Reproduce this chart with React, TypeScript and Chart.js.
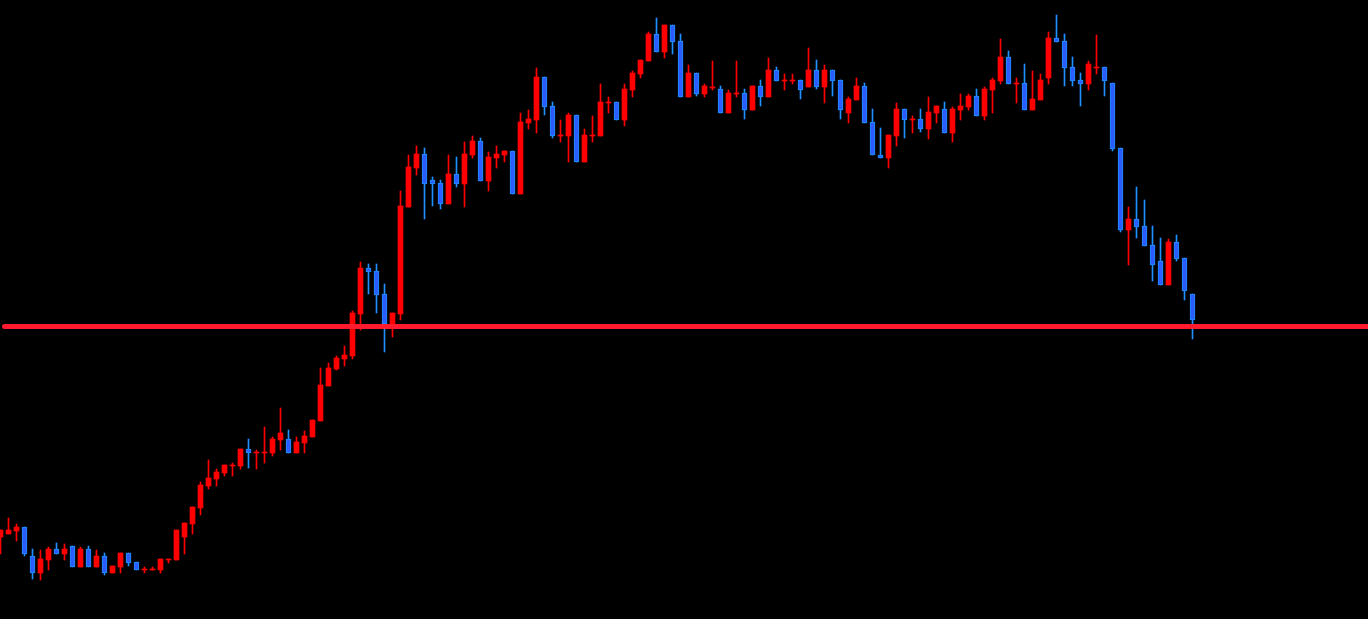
import React, { useEffect, useRef } from "react";
import { Chart, registerables } from "chart.js";

Chart.register(...registerables);

// OHLC prices for each candle (arbitrary price units)
const opens = [
  463, 466, 469, 473, 444, 427, 440, 451, 446, 454, 433, 451, 433, 444, 427, 433, 447, 438, 430, 430,
  430, 440, 440, 463, 476, 492, 514, 521, 527, 534, 534, 551, 547, 547, 547, 560, 561, 547, 557, 563,
  579, 614, 631, 641, 644, 686, 732, 729, 706, 676, 686, 793, 832, 846, 820, 817, 796, 826, 816, 845,
  859, 819, 842, 845, 849, 806, 877, 880, 923, 894, 864, 864, 885, 838, 864, 864, 897, 898, 880, 910,
  926, 939, 966, 948, 975, 959, 903, 927, 906, 912, 911, 887, 906, 907, 890, 914, 903, 930, 919, 919,
  920, 913, 930, 913, 930, 920, 887, 900, 914, 878, 845, 842, 864, 891, 880, 881, 871, 887, 891, 867,
  890, 893, 904, 884, 910, 919, 943, 916, 917, 890, 900, 922, 962, 959, 933, 920, 916, 932, 933, 917,
  852, 770, 781, 774, 755, 739, 715, 758, 742, 706,
];
const highs = [
  470, 482, 476, 473, 451, 450, 453, 457, 456, 454, 453, 454, 450, 447, 434, 447, 447, 438, 433, 433,
  441, 441, 470, 477, 493, 518, 540, 531, 535, 537, 551, 561, 550, 573, 563, 592, 570, 563, 569, 580,
  632, 637, 644, 654, 689, 738, 736, 736, 716, 687, 809, 845, 854, 852, 823, 820, 845, 843, 858, 864,
  862, 848, 854, 849, 849, 887, 890, 932, 923, 898, 880, 887, 885, 871, 884, 916, 903, 898, 916, 929,
  940, 968, 982, 975, 975, 966, 935, 927, 916, 939, 914, 910, 939, 911, 914, 920, 942, 933, 926, 926,
  920, 952, 940, 935, 930, 920, 903, 922, 917, 891, 872, 865, 897, 891, 884, 891, 903, 894, 898, 893,
  906, 906, 911, 913, 922, 961, 949, 922, 936, 929, 926, 968, 985, 966, 943, 927, 939, 965, 933, 917,
  852, 793, 813, 800, 774, 762, 761, 765, 742, 706,
];
const lows = [
  446, 466, 459, 444, 421, 420, 430, 446, 440, 433, 433, 433, 433, 425, 427, 427, 434, 430, 427, 430,
  427, 437, 440, 446, 466, 485, 511, 514, 524, 524, 531, 532, 531, 537, 544, 550, 547, 547, 547, 563,
  579, 614, 630, 634, 641, 670, 706, 687, 648, 663, 680, 793, 825, 781, 794, 791, 796, 813, 793, 842,
  819, 809, 832, 838, 806, 806, 871, 867, 885, 862, 858, 838, 838, 838, 858, 864, 887, 880, 874, 903,
  922, 939, 948, 942, 946, 903, 903, 904, 903, 910, 887, 887, 903, 881, 890, 894, 903, 919, 910, 916,
  901, 913, 911, 897, 904, 881, 877, 900, 877, 845, 842, 832, 854, 862, 867, 868, 861, 877, 867, 858,
  880, 890, 884, 880, 887, 916, 916, 897, 890, 890, 900, 916, 958, 914, 914, 894, 910, 926, 904, 849,
  768, 735, 762, 754, 719, 715, 715, 739, 700, 661,
];
const closes = [
  470, 470, 473, 446, 427, 441, 451, 446, 451, 433, 451, 433, 444, 427, 434, 447, 437, 430, 431, 431,
  441, 441, 470, 477, 493, 515, 522, 528, 535, 535, 551, 547, 548, 548, 561, 567, 547, 558, 564, 580,
  615, 632, 642, 645, 687, 732, 728, 705, 676, 687, 794, 833, 846, 816, 816, 796, 826, 816, 846, 859,
  819, 843, 846, 849, 806, 878, 881, 923, 893, 864, 865, 885, 838, 865, 865, 898, 898, 880, 911, 927,
  940, 966, 948, 975, 958, 903, 927, 906, 914, 913, 887, 907, 907, 890, 914, 903, 930, 919, 920, 920,
  910, 930, 913, 930, 919, 890, 901, 914, 877, 845, 842, 865, 891, 880, 881, 871, 888, 894, 867, 891,
  894, 904, 884, 911, 920, 943, 916, 917, 890, 901, 920, 962, 958, 932, 919, 916, 936, 933, 919, 851,
  770, 781, 773, 754, 735, 715, 758, 741, 709, 680,
];

// Horizontal level line price
const levelPrice = 673.5;
const levelStart = 0.5;
const levelEnd = 171;

const UP = "#ff0000";
const DOWN_FILL = "#2b5cff";
const DOWN_EDGE = "#1e90ff";
const LEVEL = "#ff1a2e";

export default function App() {
  const ref = useRef<HTMLCanvasElement | null>(null);

  useEffect(() => {
    document.body.style.margin = "0";
    document.body.style.background = "#000";
    const idx = opens.map((_, i) => i);
    const up = (i: number) => closes[i] >= opens[i];
    const chart = new Chart(ref.current as HTMLCanvasElement, {
      type: "bar",
      data: {
        datasets: [
          {
            type: "line",
            data: [
              { x: levelStart, y: levelPrice },
              { x: levelEnd, y: levelPrice },
            ],
            borderColor: LEVEL,
            borderWidth: 5,
            pointRadius: 0,
            borderCapStyle: "round",
            order: -1,
          } as any,
          {
            type: "bar",
            data: idx.map((i) => ({ x: i, y: [opens[i], closes[i]] })),
            backgroundColor: idx.map((i) => (up(i) ? UP : DOWN_FILL)),
            borderColor: idx.map((i) => (up(i) ? UP : DOWN_EDGE)),
            borderWidth: idx.map((i) => (up(i) ? 0 : 1)),
            borderSkipped: false,
            barThickness: 5,
            grouped: false,
            order: 0,
          } as any,
          {
            type: "bar",
            data: idx.map((i) => ({ x: i, y: [lows[i], highs[i]] })),
            backgroundColor: idx.map((i) => (up(i) ? UP : DOWN_EDGE)),
            borderWidth: 0,
            barThickness: 1,
            grouped: false,
            order: 1,
          } as any,
        ],
      },
      options: {
        animation: false,
        responsive: false,
        maintainAspectRatio: false,
        layout: { padding: 0 },
        plugins: { legend: { display: false }, tooltip: { enabled: false } },
        scales: {
          x: { type: "linear", min: -0.0625, max: 170.9375, offset: false, display: false },
          y: { type: "linear", min: 381, max: 1000, display: false },
        },
      } as any,
    });
    return () => chart.destroy();
  }, []);

  return (
    <div style={{ width: 1368, height: 619, background: "#000" }}>
      <canvas ref={ref} width={1368} height={619} style={{ display: "block" }} />
    </div>
  );
}
